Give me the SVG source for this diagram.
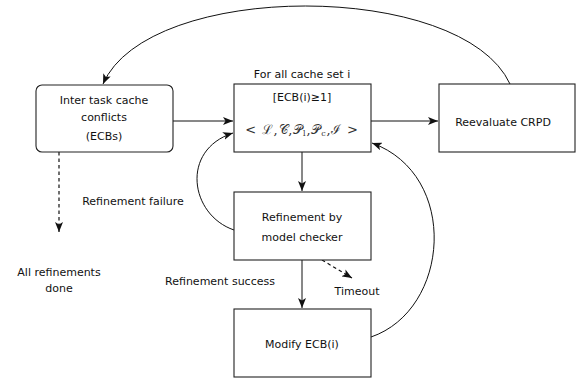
<svg xmlns="http://www.w3.org/2000/svg" width="584" height="381" viewBox="0 0 584 381">
<style>
.box{fill:#fff;stroke:#222;stroke-width:1.1}
.t{font-family:"DejaVu Sans","Liberation Sans",sans-serif;font-size:11px;fill:#111;text-anchor:middle}
.m{font-family:"DejaVu Serif","Liberation Serif",serif;font-size:13px;fill:#333;text-anchor:middle;letter-spacing:0.8px}
.e{fill:none;stroke:#111;stroke-width:1}
.d{fill:none;stroke:#111;stroke-width:1.2;stroke-dasharray:3.5 3}
</style>
<defs>
<marker id="ah" viewBox="0 0 10 8" refX="10" refY="4" markerWidth="10" markerHeight="8" markerUnits="userSpaceOnUse" orient="auto">
<path d="M0,0 L10,4 L0,8 L2.5,4 Z" fill="#111"/>
</marker>
</defs>
<g id="connectors">
<path class="e" d="M173,121 L233,121" marker-end="url(#ah)"/>
<path class="e" d="M371,121 L438,121" marker-end="url(#ah)"/>
<path class="e" d="M302,152 L302,191" marker-end="url(#ah)"/>
<path class="e" d="M302,260 L302,308" marker-end="url(#ah)"/>
<path class="e" d="M510,84 C462,-20 148,-20 103,84" marker-end="url(#ah)"/>
<path class="e" d="M234,230 C190,215 180,150 233,133" marker-end="url(#ah)"/>
<path class="e" d="M371,337 C450,310 460,175 372,143" marker-end="url(#ah)"/>
<path class="d" d="M59,152 L59,232" marker-end="url(#ah)"/>
<path class="d" d="M322,260 L352,278" marker-end="url(#ah)"/>
</g>
<g id="n-ecbs">
<rect class="box" x="36" y="85" width="137" height="67" rx="6"/>
<text class="t" x="104" y="104">Inter task cache</text>
<text class="t" x="104" y="121">conflicts</text>
<text class="t" x="104" y="140">(ECBs)</text>
</g>
<g id="n-cacheset">
<text class="t" x="302" y="78">For all cache set i</text>
<rect class="box" x="234" y="84" width="137" height="68"/>
<text class="t" x="302" y="101">[ECB(i)≥1]</text>
<text class="m" x="302" y="134">&lt; ℒ,𝒞,𝒫<tspan font-size="8" dy="2">l</tspan><tspan dy="-2">,𝒫</tspan><tspan font-size="8" dy="2">c</tspan><tspan dy="-2">,ℐ &gt;</tspan></text>
</g>
<g id="n-crpd">
<rect class="box" x="439" y="84" width="136" height="68"/>
<text class="t" x="503" y="126">Reevaluate CRPD</text>
</g>
<g id="n-refine">
<rect class="box" x="234" y="192" width="137" height="68"/>
<text class="t" x="302" y="221">Refinement by</text>
<text class="t" x="302" y="241">model checker</text>
</g>
<g id="n-modify">
<rect class="box" x="234" y="309" width="137" height="68"/>
<text class="t" x="302" y="348">Modify ECB(i)</text>
</g>
<g id="labels">
<text class="t" x="133" y="205">Refinement failure</text>
<text class="t" x="59" y="276">All refinements</text>
<text class="t" x="59" y="292">done</text>
<text class="t" x="220" y="285">Refinement success</text>
<text class="t" x="357" y="295">Timeout</text>
</g>
</svg>
